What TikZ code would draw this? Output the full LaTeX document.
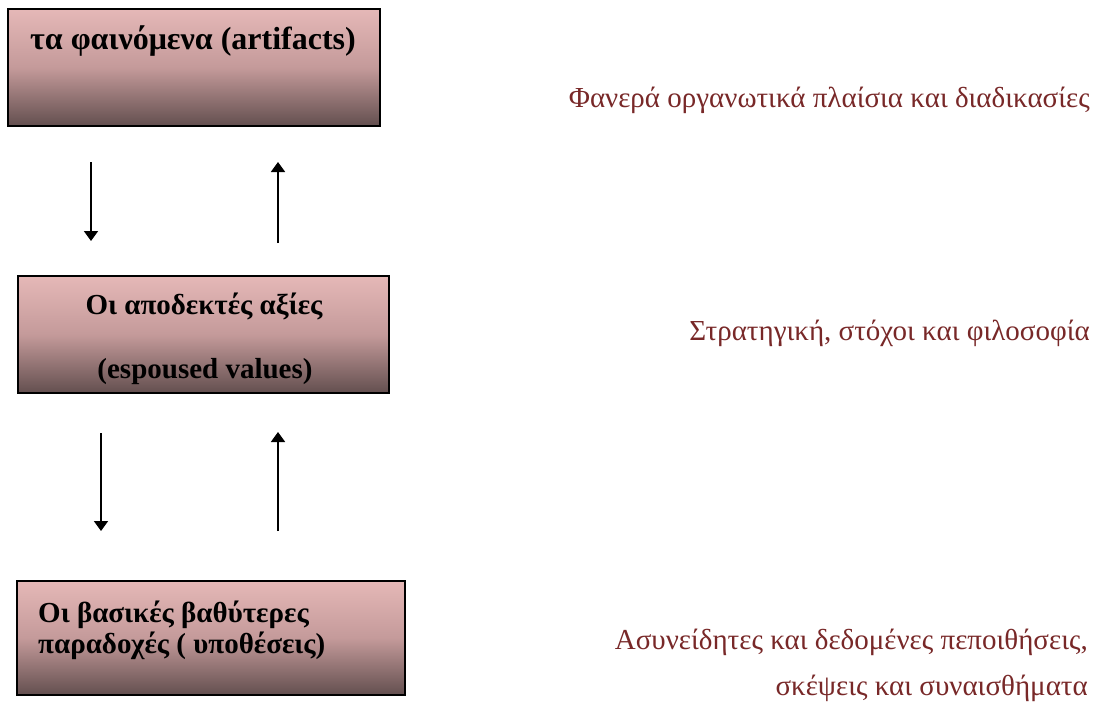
\documentclass[tikz,border=0pt]{standalone}
\usepackage{fontspec}
\setmainfont{Liberation Serif}
\usepackage{xcolor}
\usetikzlibrary{positioning}
\usetikzlibrary{arrows, arrows.meta, calc}

\definecolor{boxtop}{RGB}{229,184,183}
\definecolor{boxmid}{RGB}{196,154,154}
\definecolor{boxbot}{RGB}{99,79,79}
\definecolor{notered}{RGB}{120,40,40}

\tikzset{
    level/.style={draw=black, line width=1.4pt, rectangle, inner sep=0pt,
        top color=boxtop, bottom color=boxbot, middle color=boxmid},
    boxtext/.style={font=\fontsize{29}{34}\selectfont\bfseries, inner sep=0pt, anchor=base},
    note/.style={font=\fontsize{29}{34}\selectfont, text=notered, inner sep=0pt, anchor=base east},
    flow/.style={line width=1.8pt, -{Triangle[length=10pt,width=14pt]}}
}

\begin{document}
\begin{tikzpicture}[x=1pt,y=-1pt]
    \useasboundingbox (0,0) rectangle (1102,701);

    % the three levels
    \node[level, minimum width=372pt, minimum height=117pt] (artifacts) at (194,67.5) {};
    \node[level, minimum width=371pt, minimum height=117pt] (values) at (203.5,334.5) {};
    \node[level, minimum width=388pt, minimum height=114pt] (assumptions) at (211,638) {};

    \node[boxtext, font=\fontsize{32}{38}\selectfont\bfseries] (artifactsA) at (193,50) {τα φαινόμενα (artifacts)};
    \node[boxtext] (valuesA) at (204,314) {Οι αποδεκτές αξίες};
    \node[boxtext] (valuesB) at (205,378) {(espoused values)};
    \node[boxtext, anchor=base west] (assumptionsA) at (38,622) {Οι βασικές βαθύτερες};
    \node[boxtext, anchor=base west] (assumptionsB) at (38,653) {παραδοχές ( υποθέσεις)};

    % notes on the right
    \node[note] (noteA) at (1090,107) {Φανερά οργανωτικά πλαίσια και διαδικασίες};
    \node[note] (noteB) at (1090,340) {Στρατηγική, στόχοι και φιλοσοφία};
    \node[note] (noteC) at (1088,649) {Ασυνείδητες και δεδομένες πεποιθήσεις,};
    \node[note] (noteD) at (1088,695) {σκέψεις και συναισθήματα};

    % arrows between levels
    \coordinate (downAs) at (91,162);
    \coordinate (downAe) at (91,241);
    \coordinate (upAs) at (278,243);
    \coordinate (upAe) at (278,162);
    \coordinate (downBs) at (101,433);
    \coordinate (downBe) at (101,531);
    \coordinate (upBs) at (278,531);
    \coordinate (upBe) at (278,432);
    \draw[flow] (downAs) -- (downAe);
    \draw[flow] (upAs) -- (upAe);
    \draw[flow] (downBs) -- (downBe);
    \draw[flow] (upBs) -- (upBe);
\end{tikzpicture}
\end{document}
